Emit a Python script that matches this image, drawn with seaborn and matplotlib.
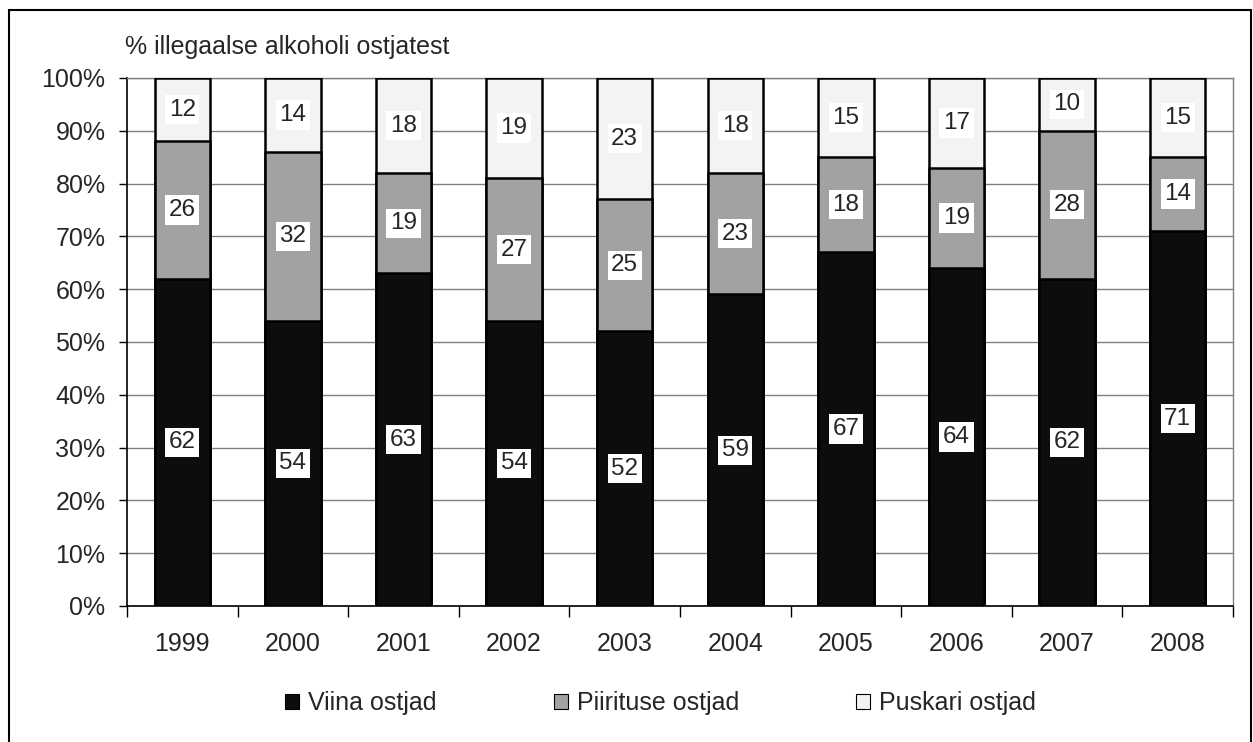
import numpy as np
import pandas as pd
import seaborn as sns
import matplotlib.pyplot as plt
from matplotlib.patches import Patch, Rectangle
from matplotlib.ticker import FixedLocator, PercentFormatter

years = ["1999", "2000", "2001", "2002", "2003", "2004", "2005", "2006", "2007", "2008"]
viina = [62, 54, 63, 54, 52, 59, 67, 64, 62, 71]
piirituse = [26, 32, 19, 27, 25, 23, 18, 19, 28, 14]
puskari = [12, 14, 18, 19, 23, 18, 15, 17, 10, 15]
series_names = ["Viina ostjad", "Piirituse ostjad", "Puskari ostjad"]
colors = ["#0d0d0d", "#a2a2a2", "#f3f3f3"]

df = pd.DataFrame({"year": years, "viina": viina, "piirituse": piirituse, "puskari": puskari})
df["c1"] = df["viina"]
df["c2"] = df["viina"] + df["piirituse"]
df["c3"] = df["c2"] + df["puskari"]

sns.set_style("white")
plt.rcParams["font.family"] = ["Liberation Sans", "DejaVu Sans"]
fs = 18

fig = plt.figure(figsize=(12.53, 7.42), dpi=100)
ax = fig.add_axes([0.1014, 0.1833, 0.8826, 0.7116])

# stacked bars: draw cumulative totals from top to bottom
for col, color in zip(["c3", "c2", "c1"], colors[::-1]):
    sns.barplot(data=df, x="year", y=col, color=color, width=0.5,
                edgecolor="black", linewidth=1.8, saturation=1, ax=ax, zorder=3)

# value labels with white boxes
for i in range(len(years)):
    bottoms = [0, df["c1"][i], df["c2"][i]]
    for b, v in zip(bottoms, [viina[i], piirituse[i], puskari[i]]):
        ax.text(i, b + v / 2, str(v), ha="center", va="center", fontsize=17.5,
                zorder=5, bbox=dict(boxstyle="square,pad=0.15", fc="white", ec="none"))

ax.set_xlim(-0.5, len(years) - 0.5)
ax.set_ylim(0, 100)
ax.yaxis.set_major_locator(FixedLocator(np.arange(0, 101, 10)))
ax.yaxis.set_major_formatter(PercentFormatter(decimals=0))
ax.grid(axis="y", color="#808080", linewidth=1.0, zorder=0)
ax.set_axisbelow(True)
ax.set_xlabel("")
ax.set_ylabel("")

ax.tick_params(axis="y", which="major", left=True, length=6, width=1, color="black",
               labelsize=fs, pad=9.5)
ax.tick_params(axis="x", which="major", bottom=False, length=0, labelsize=fs, pad=19)
ax.xaxis.set_minor_locator(FixedLocator(np.arange(-0.5, len(years), 1.0)))
ax.tick_params(axis="x", which="minor", bottom=True, length=8, width=1, color="black")

for side in ["left", "bottom"]:
    ax.spines[side].set_color("black")
    ax.spines[side].set_linewidth(1.2)
for side in ["top", "right"]:
    ax.spines[side].set_color("#808080")
    ax.spines[side].set_linewidth(1.0)

fig.text(0.1, 0.937, "% illegaalse alkoholi ostjatest", fontsize=fs, ha="left", va="center")

handles = [Patch(facecolor=c, edgecolor="black", linewidth=0.8) for c in colors]
fig.legend(handles, series_names, loc="center", bbox_to_anchor=(0.527, 0.0526), ncol=3,
           frameon=False, fontsize=fs, handlelength=0.56, handleheight=0.56,
           handletextpad=0.36, columnspacing=4.7, borderpad=0)

# outer chart border
fig.add_artist(Rectangle((9 / 1253, -0.05), (1251 - 9) / 1253, 1.05 - 10 / 742,
                         transform=fig.transFigure, fill=False, edgecolor="black",
                         linewidth=1.5))

fig.savefig("out.png", dpi=100)
